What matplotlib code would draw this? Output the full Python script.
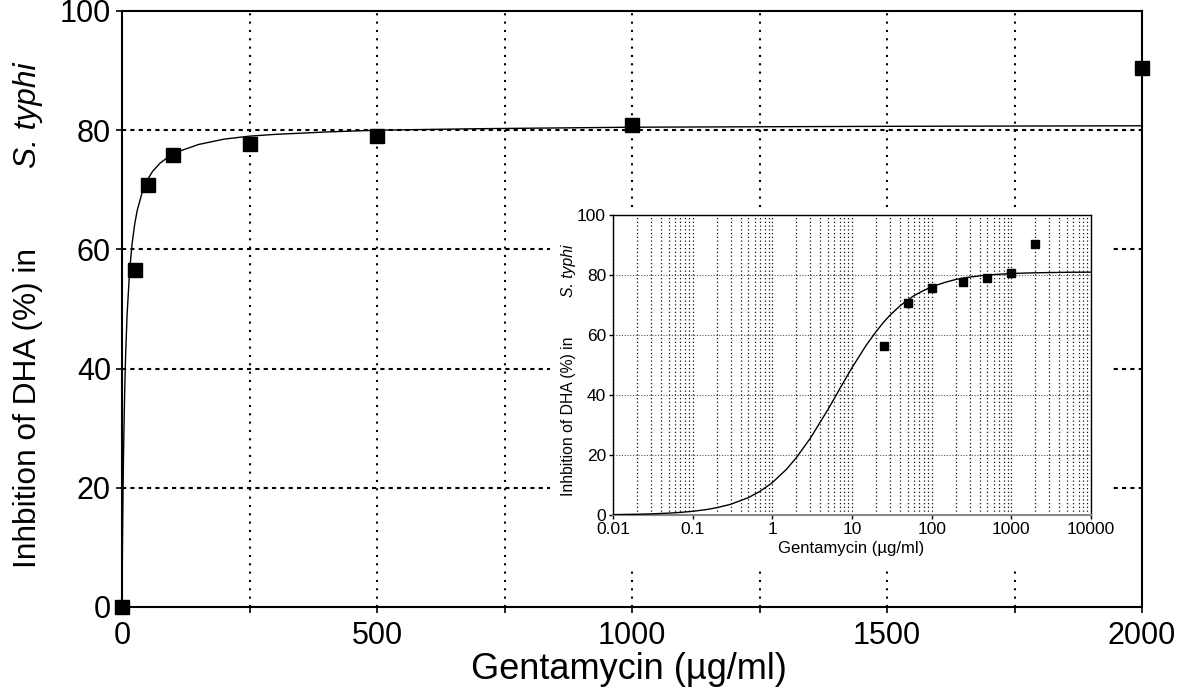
import matplotlib
matplotlib.use("Agg")
import matplotlib.pyplot as plt
from matplotlib.patches import Rectangle
import numpy as np

plt.rcParams['font.family'] = ['Liberation Sans', 'DejaVu Sans']

# ---- data ----
conc = [0, 25, 50, 100, 250, 500, 1000, 2000]
inhibition = [0, 56.5, 70.8, 75.8, 77.7, 79.0, 80.8, 90.5]

fit_x = [0, 0.01, 0.02, 0.03, 0.05, 0.07, 0.1, 0.15, 0.2, 0.3, 0.5, 0.7, 1, 1.5, 2, 3, 5, 7,
         10, 15, 20, 25, 30, 40, 50, 60, 75, 100, 150, 200, 250, 300, 400, 500, 700,
         1000, 1500, 2000, 5000, 10000]
fit_y = [0, 0.12, 0.25, 0.37, 0.62, 0.86, 1.23, 1.83, 2.42, 3.57, 5.79, 7.88, 10.8, 15.2, 19.1, 25.6, 35.2, 42.0,
         49.1, 56.5, 61.1, 64.3, 66.6, 69.7, 71.7, 73.1, 74.5, 76.1, 77.6, 78.5, 79.0, 79.3, 79.7, 80.0, 80.25,
         80.5, 80.65, 80.74, 80.9, 80.95]

main_xticks = [0, 500, 1000, 1500, 2000]
main_yticks = [0, 20, 40, 60, 80, 100]
inset_xticks = [0.01, 0.1, 1, 10, 100, 1000, 10000]
inset_xticklabels = ['0.01', '0.1', '1', '10', '100', '1000', '10000']
ylabel_main = "Inhbition of DHA (%) in"
ylabel_species = "S. typhi"
xlabel = "Gentamycin (\u00b5g/ml)"

W, H = 1187, 695
fig = plt.figure(figsize=(W / 100, H / 100), dpi=100)

def fx(px):
    return px / W

def fy(py):
    return 1 - py / H

# ---- main axes ----
ax = fig.add_axes([fx(122), fy(607), fx(1142) - fx(122), fy(11) - fy(607)])
ax.set_xlim(0, 2000)
ax.set_ylim(0, 100)
for s in ax.spines.values():
    s.set_linewidth(1.5)
    s.set_color('black')
ax.set_xticks(main_xticks)
ax.set_xticks(np.arange(0, 2001, 250), minor=True)
ax.set_yticks(main_yticks)
ax.tick_params(axis='both', which='major', labelsize=22, length=4, width=1.2, direction='out', colors='black')
ax.tick_params(axis='x', which='minor', length=4, width=1.2, direction='out')
ax.tick_params(axis='x', pad=6)
ax.tick_params(axis='y', pad=4)
for xv in np.arange(250, 2000, 250):
    ax.axvline(xv, color='black', lw=1.5, ls=(0, (1, 3)), zorder=0)
for yv in [20, 40, 60, 80]:
    ax.axhline(yv, color='black', lw=1.5, ls=(0, (2, 2)), zorder=0)
mx = [x for x in fit_x if x <= 2000]
my = [y for x, y in zip(fit_x, fit_y) if x <= 2000]
ax.plot(mx, my, color='black', lw=1.0, zorder=3)
ax.plot(conc, inhibition, ls='none', marker='s', ms=10, color='black', clip_on=False, zorder=4)

fig.text(fx(28), fy(408), ylabel_main, rotation=90, ha='center', va='center', fontsize=22.8)
fig.text(fx(28), fy(115), ylabel_species, rotation=90, ha='center', va='center', fontsize=22.8, style='italic')
fig.text(fx(629), fy(679), xlabel, ha='center', va='baseline', fontsize=26)

# white background behind the inset (covers main grid)
fig.patches.append(Rectangle((fx(550), fy(566)), fx(1113) - fx(550), fy(208) - fy(566),
                             transform=fig.transFigure, facecolor='white', edgecolor='none', zorder=5))

# ---- inset axes ----
ins = fig.add_axes([fx(613), fy(515), fx(1091) - fx(613), fy(215) - fy(515)], zorder=6)
ins.set_xscale('log')
ins.set_xlim(0.01, 10000)
ins.set_ylim(0, 100)
for s in ins.spines.values():
    s.set_linewidth(1.0)
    s.set_color('black')
ins.spines['bottom'].set_color('#888888')
ins.spines['bottom'].set_linewidth(1.5)
ins.set_xticks(inset_xticks)
ins.set_xticklabels(inset_xticklabels)
ins.set_yticks(main_yticks)
ins.tick_params(axis='both', which='major', labelsize=12.5, length=3, width=1, direction='out', pad=2)
ins.tick_params(axis='x', which='minor', length=0)
ins.grid(True, which='both', axis='x', color='#111111', lw=0.9, ls=(0, (1, 2)))
ins.grid(True, which='major', axis='y', color='#555555', lw=0.8, ls=(0, (1, 1.5)))
ins.set_axisbelow(True)
ix = [x for x in fit_x if x > 0]
iy = [y for x, y in zip(fit_x, fit_y) if x > 0]
ins.plot(ix, iy, color='black', lw=1.0, zorder=3)
ins.plot(conc[1:], inhibition[1:], ls='none', marker='s', ms=5.5, color='black', zorder=4)

fig.text(fx(569), fy(416), ylabel_main, rotation=90, ha='center', va='center', fontsize=11.3, zorder=7)
fig.text(fx(569), fy(271), ylabel_species, rotation=90, ha='center', va='center', fontsize=11.3,
         style='italic', zorder=7)
fig.text(fx(851), fy(549), xlabel, ha='center', va='center', fontsize=12, zorder=7)

fig.savefig('out.png', dpi=100)
